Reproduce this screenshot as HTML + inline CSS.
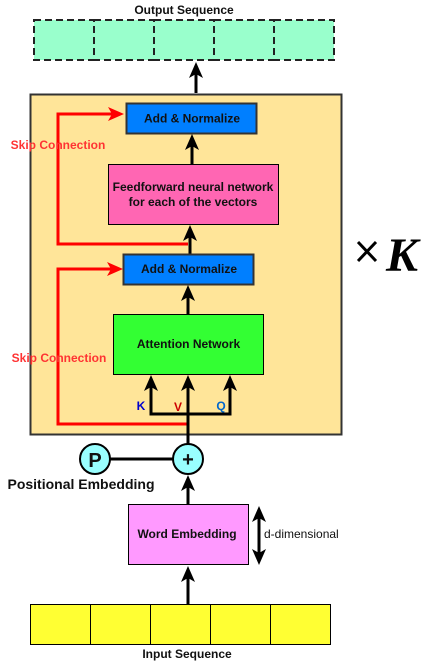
<!DOCTYPE html>
<html><head><meta charset="utf-8"><style>
html,body{margin:0;padding:0;background:#fff;}
svg{display:block;font-family:"Liberation Sans",sans-serif;}
</style></head><body>
<svg width="428" height="665" viewBox="0 0 428 665" xmlns="http://www.w3.org/2000/svg">
<text x="184" y="14" font-size="12" font-weight="bold" text-anchor="middle" fill="#111">Output Sequence</text>
<g fill="#99ffcc" stroke="#222" stroke-width="2" stroke-dasharray="7,4">
<rect x="34" y="20" width="60" height="40"/><rect x="94" y="20" width="60" height="40"/><rect x="154" y="20" width="60" height="40"/><rect x="214" y="20" width="60" height="40"/><rect x="274" y="20" width="60" height="40"/>
</g>
<line x1="196" y1="93" x2="196" y2="70" stroke="#000" stroke-width="3"/>
<polygon points="196,62 189,78 196,74 203,78" fill="#000"/>
<rect x="30.5" y="94.5" width="311" height="340" fill="#ffe599" stroke="#333" stroke-width="2"/>
<rect x="126.5" y="103.5" width="130" height="30" fill="#007fff" stroke="#333" stroke-width="2"/>
<text x="192" y="122.5" font-size="12" font-weight="bold" text-anchor="middle" fill="#111">Add &amp; Normalize</text>
<line x1="192" y1="164" x2="192" y2="142" stroke="#000" stroke-width="3"/>
<polygon points="192,134 185,150 192,146 199,150" fill="#000"/>
<rect x="108.5" y="164.5" width="170" height="60" fill="#ff66b3" stroke="#000" stroke-width="1"/>
<text x="193" y="191" font-size="12" font-weight="bold" text-anchor="middle" fill="#111">Feedforward neural network</text>
<text x="193" y="206" font-size="12" font-weight="bold" text-anchor="middle" fill="#111">for each of the vectors</text>
<line x1="190" y1="254" x2="190" y2="233" stroke="#000" stroke-width="3"/>
<polygon points="190,225 183,241 190,237 197,241" fill="#000"/>
<polyline points="188,244 58,244 58,114 115,114" fill="none" stroke="#ff0000" stroke-width="3"/>
<polygon points="124,114 108,107 112,114 108,121" fill="#ff0000"/>
<rect x="123.5" y="254.5" width="130" height="30" fill="#007fff" stroke="#333" stroke-width="2"/>
<text x="189" y="273" font-size="12" font-weight="bold" text-anchor="middle" fill="#111">Add &amp; Normalize</text>
<line x1="188" y1="314" x2="188" y2="293" stroke="#000" stroke-width="3"/>
<polygon points="188,285 181,301 188,297 195,301" fill="#000"/>
<rect x="113.5" y="314.5" width="150" height="60" fill="#33ff33" stroke="#000" stroke-width="1"/>
<text x="188.5" y="348" font-size="12" font-weight="bold" text-anchor="middle" fill="#111">Attention Network</text>
<polyline points="188,424 58,424 58,269 114,269" fill="none" stroke="#ff0000" stroke-width="3"/>
<polygon points="123,269 107,262 111,269 107,276" fill="#ff0000"/>
<polyline points="151,383 151,414 230,414 230,383" fill="none" stroke="#000" stroke-width="3"/>
<line x1="188" y1="444" x2="188" y2="383" stroke="#000" stroke-width="3"/>
<polygon points="151,375 144,391 151,387 158,391" fill="#000"/>
<polygon points="188,375 181,391 188,387 195,391" fill="#000"/>
<polygon points="230,375 223,391 230,387 237,391" fill="#000"/>
<text x="141" y="410" font-size="12" font-weight="bold" text-anchor="middle" fill="#0000cc">K</text>
<text x="178" y="411" font-size="12" font-weight="bold" text-anchor="middle" fill="#cc0000">V</text>
<text x="221" y="410" font-size="12" font-weight="bold" text-anchor="middle" fill="#0066cc">Q</text>
<text x="58" y="149" font-size="12" font-weight="bold" text-anchor="middle" fill="#ff3333">Skip Connection</text>
<text x="59" y="362" font-size="12" font-weight="bold" text-anchor="middle" fill="#ff3333">Skip Connection</text>
<g stroke="#000" stroke-width="3"><line x1="358" y1="242" x2="376" y2="261"/><line x1="376" y1="242" x2="358" y2="261"/></g>
<text x="386" y="271" font-size="48" font-weight="bold" font-style="italic" fill="#000" font-family="'Liberation Serif',serif">K</text>
<line x1="110" y1="459" x2="173" y2="459" stroke="#000" stroke-width="3"/>
<circle cx="95" cy="459" r="15" fill="#99ffff" stroke="#000" stroke-width="2"/>
<text x="95" y="467" font-size="20" font-weight="bold" text-anchor="middle" fill="#111">P</text>
<circle cx="188" cy="459" r="15" fill="#99ffff" stroke="#000" stroke-width="2"/>
<text x="188" y="466" font-size="20" font-weight="bold" text-anchor="middle" fill="#111">+</text>
<text x="81" y="489" font-size="14" font-weight="bold" text-anchor="middle" fill="#111">Positional Embedding</text>
<line x1="188" y1="504" x2="188" y2="483" stroke="#000" stroke-width="3"/>
<polygon points="188,475 181,491 188,487 195,491" fill="#000"/>
<rect x="128.5" y="504.5" width="120" height="60" fill="#ff99ff" stroke="#000" stroke-width="1"/>
<text x="187" y="538" font-size="12" font-weight="bold" text-anchor="middle" fill="#111">Word Embedding</text>
<line x1="259" y1="514" x2="259" y2="557" stroke="#000" stroke-width="3"/>
<polygon points="259,506 252,522 259,518 266,522" fill="#000"/>
<polygon points="259,565 252,549 259,553 266,549" fill="#000"/>
<text x="264" y="538" font-size="12" fill="#111">d-dimensional</text>
<line x1="188" y1="604" x2="188" y2="574" stroke="#000" stroke-width="3"/>
<polygon points="188,566 181,582 188,578 195,582" fill="#000"/>
<g fill="#ffff33" stroke="#000" stroke-width="1">
<rect x="30.5" y="604.5" width="60" height="40"/><rect x="90.5" y="604.5" width="60" height="40"/><rect x="150.5" y="604.5" width="60" height="40"/><rect x="210.5" y="604.5" width="60" height="40"/><rect x="270.5" y="604.5" width="60" height="40"/>
</g>
<text x="187" y="658" font-size="12" font-weight="bold" text-anchor="middle" fill="#111">Input Sequence</text>
</svg>
</body></html>
